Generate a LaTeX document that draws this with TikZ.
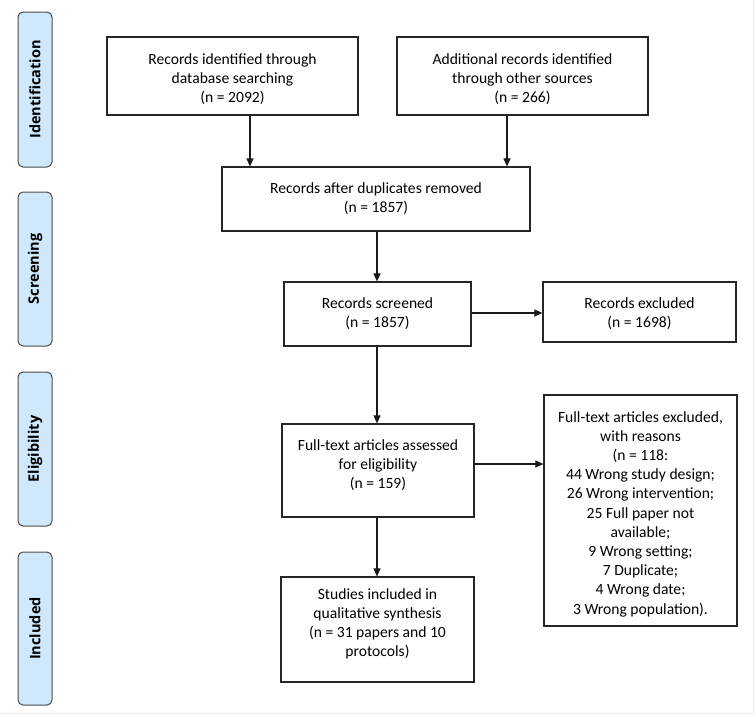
\documentclass[tikz,border=0pt]{standalone}
\usepackage{fontspec}
\setmainfont{Carlito}
\newfontfamily\barfont{Open Sans}
\usetikzlibrary{arrows.meta}
\definecolor{barfill}{HTML}{CFE8FC}
\definecolor{bardraw}{HTML}{4A4A4A}
\definecolor{edgegray}{HTML}{EBEBEB}
\tikzset{
  box/.style={draw=black!85, line width=1.2pt, fill=white, inner sep=0pt},
  boxtext/.style={align=center, inner sep=0pt, font=\fontsize{15.6}{19.2}\selectfont},
  phase/.style={draw=bardraw, line width=1pt, fill=barfill, rounded corners=5pt,
    minimum width=34pt, inner sep=0pt},
  phasetext/.style={rotate=90, font=\barfont\bfseries\fontsize{14.5}{16}\selectfont},
  arr/.style={line width=1.1pt, draw=black!90, -{Triangle[length=8pt,width=7pt]}}
}
\begin{document}
\begin{tikzpicture}[x=1pt,y=-1pt]
\useasboundingbox (0,0) rectangle (756,716);
\fill[white] (0,0) rectangle (756,716);
\draw[edgegray, line width=1pt] (753,0) -- (753,713) -- (0,713);
% phase bars
\node[phase, minimum height=155pt] (p1) at (35,89.5) {};
\node[phasetext] (p1t) at (p1.center) {Identification};
\node[phase, minimum height=154pt] (p2) at (35,269) {};
\node[phasetext] (p2t) at (p2.center) {Screening};
\node[phase, minimum height=154pt] (p3) at (35,449) {};
\node[phasetext] (p3t) at (p3.center) {Eligibility};
\node[phase, minimum height=153pt] (p4) at (35,628.5) {};
\node[phasetext] (p4t) at (p4.center) {Included};
% boxes
\node[box, minimum width=251pt, minimum height=78pt] (b1) at (232.5,76) {};
\node[boxtext] (b1t) at (232.5,79) {Records identified through\\database searching\\(n = 2092)};
\node[box, minimum width=251pt, minimum height=78pt] (b2) at (522.5,76) {};
\node[boxtext] (b2t) at (522.5,79) {Additional records identified\\through other sources\\(n = 266)};
\node[box, minimum width=308pt, minimum height=64pt] (b3) at (376,199) {};
\node[boxtext] (b3t) at (376,199) {Records after duplicates removed\\(n = 1857)};
\node[box, minimum width=187pt, minimum height=64pt] (b4) at (377.5,314) {};
\node[boxtext] (b4t) at (377.5,314) {Records screened\\(n = 1857)};
\node[box, minimum width=193pt, minimum height=60pt] (x1) at (639.5,312) {};
\node[boxtext] (x1t) at (639.5,314) {Records excluded\\(n = 1698)};
\node[box, minimum width=192pt, minimum height=93pt] (b5) at (378,470.5) {};
\node[boxtext] (b5t) at (378,465) {Full-text articles assessed\\for eligibility\\(n = 159)};
\node[box, minimum width=193pt, minimum height=231pt] (x2) at (640.5,510.5) {};
\node[boxtext] (x2t) at (640.5,514) {Full-text articles excluded,\\with reasons\\(n = 118:\\44 Wrong study design;\\26 Wrong intervention;\\25 Full paper not\\available;\\9 Wrong setting;\\7 Duplicate;\\4 Wrong date;\\3 Wrong population).};
\node[box, minimum width=193pt, minimum height=105pt] (b6) at (377.5,629.5) {};
\node[boxtext] (b6t) at (377.5,624) {Studies included in\\qualitative synthesis\\(n = 31 papers and 10\\protocols)};
% connector guides
\coordinate (c1) at (250,0);
\coordinate (c2) at (507,0);
\coordinate (c3) at (377,0);
\coordinate (r1) at (0,313);
\coordinate (r2) at (0,464);
% connectors
\draw[arr] (b1.south -| c1) -- (b3.north -| c1);
\draw[arr] (b2.south -| c2) -- (b3.north -| c2);
\draw[arr] (b3.south -| c3) -- (b4.north -| c3);
\draw[arr] (b4.east |- r1) -- (x1.west |- r1);
\draw[arr] (b4.south -| c3) -- (b5.north -| c3);
\draw[arr] (b5.east |- r2) -- (x2.west |- r2);
\draw[arr] (b5.south -| c3) -- (b6.north -| c3);
\end{tikzpicture}
\end{document}
